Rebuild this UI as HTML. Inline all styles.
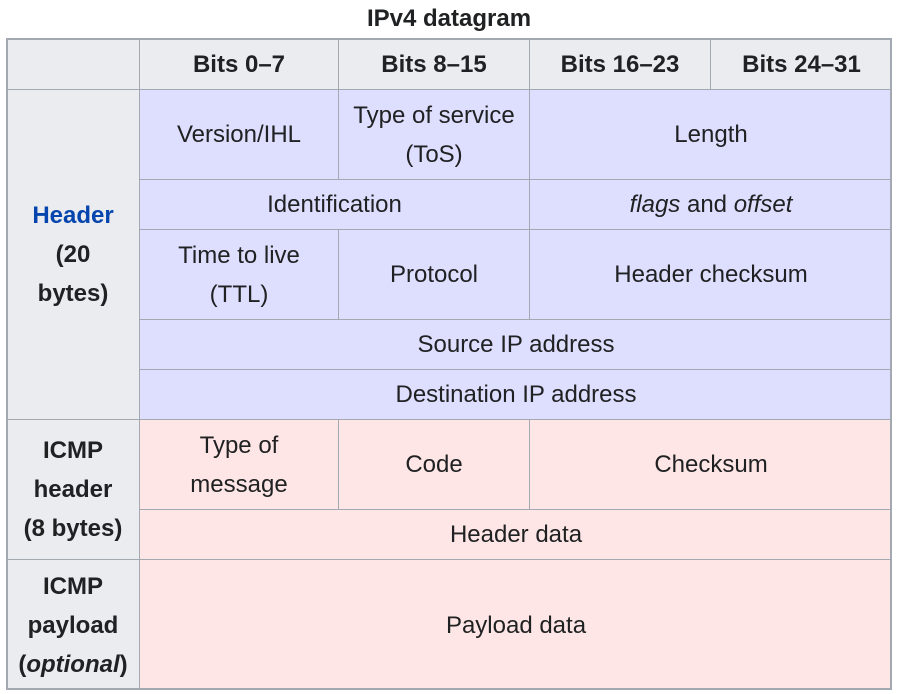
<!DOCTYPE html><html><head><style>
body{margin:0;width:898px;height:694px;background:#fff;font-family:"Liberation Sans",Arial,sans-serif;color:#202122;position:relative}
.c{position:absolute;box-sizing:border-box;border-left:1px solid #a2a9b1;border-top:1px solid #a2a9b1;display:flex;align-items:center;justify-content:center;text-align:center;font-size:24px;line-height:39px}
.h{background:#eaecf0;font-weight:bold}
.b{background:#dedeff}
.p{background:#fee6e6}
#t{position:absolute;left:0;width:898px;top:5px;text-align:center;font-weight:bold;font-size:24px}
#box{position:absolute;left:6px;top:38px;width:886px;height:652px;box-sizing:border-box;border:2px solid #a2a9b1;pointer-events:none}
</style></head><body>
<div id="t">IPv4 datagram</div>
<div class="c h" style="left:6px;top:38px;width:133px;height:51px"></div>
<div class="c h" style="left:139px;top:38px;width:199px;height:51px">Bits 0–7</div>
<div class="c h" style="left:338px;top:38px;width:191px;height:51px">Bits 8–15</div>
<div class="c h" style="left:529px;top:38px;width:181px;height:51px">Bits 16–23</div>
<div class="c h" style="left:710px;top:38px;width:182px;height:51px">Bits 24–31</div>

<div class="c h" style="left:6px;top:89px;width:133px;height:330px"><div><span style="color:#0645ad">Header</span><br>(20<br>bytes)</div></div>
<div class="c b" style="left:139px;top:89px;width:199px;height:90px">Version/IHL</div>
<div class="c b" style="left:338px;top:89px;width:191px;height:90px">Type of service<br>(ToS)</div>
<div class="c b" style="left:529px;top:89px;width:363px;height:90px">Length</div>
<div class="c b" style="left:139px;top:179px;width:390px;height:50px">Identification</div>
<div class="c b" style="left:529px;top:179px;width:363px;height:50px"><span><i>flags</i> and <i>offset</i></span></div>
<div class="c b" style="left:139px;top:229px;width:199px;height:90px">Time to live<br>(TTL)</div>
<div class="c b" style="left:338px;top:229px;width:191px;height:90px">Protocol</div>
<div class="c b" style="left:529px;top:229px;width:363px;height:90px">Header checksum</div>
<div class="c b" style="left:139px;top:319px;width:753px;height:50px">Source IP address</div>
<div class="c b" style="left:139px;top:369px;width:753px;height:50px">Destination IP address</div>

<div class="c h" style="left:6px;top:419px;width:133px;height:140px"><div>ICMP<br>header<br>(8 bytes)</div></div>
<div class="c p" style="left:139px;top:419px;width:199px;height:90px">Type of<br>message</div>
<div class="c p" style="left:338px;top:419px;width:191px;height:90px">Code</div>
<div class="c p" style="left:529px;top:419px;width:363px;height:90px">Checksum</div>
<div class="c p" style="left:139px;top:509px;width:753px;height:50px">Header data</div>
<div class="c h" style="left:6px;top:559px;width:133px;height:131px"><div>ICMP<br>payload<br>(<i>optional</i>)</div></div>
<div class="c p" style="left:139px;top:559px;width:753px;height:131px">Payload data</div>
<div id="box"></div>
</body></html>
